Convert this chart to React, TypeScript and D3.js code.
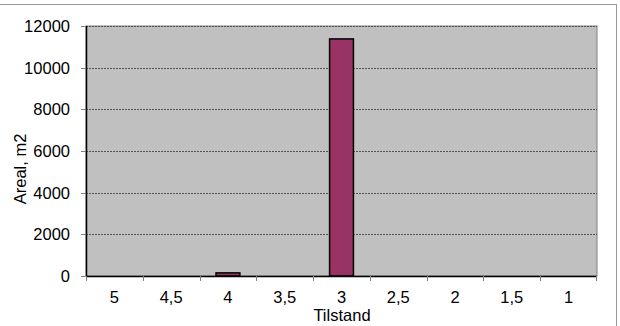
import React from "react";
import * as d3 from "d3";

const categories = ["5", "4,5", "4", "3,5", "3", "2,5", "2", "1,5", "1"];
const values = [0, 0, 150, 0, 11380, 0, 0, 0, 0];
const yTicks = [0, 2000, 4000, 6000, 8000, 10000, 12000];

export default function App() {
  const W = 620, H = 326;
  const m = { l: 86, t: 26, r: 597, b: 276 };
  const x = d3.scaleBand<string>().domain(categories).range([m.l, m.r]).paddingInner(0).paddingOuter(0);
  const y = d3.scaleLinear().domain([0, 12000]).range([m.b, m.t]);
  const bw = x.bandwidth() * 0.42;
  const font = "'Liberation Sans', Arial, sans-serif";
  const fs = 16.5;
  return (
    <svg width={W} height={H} style={{ position: "absolute", left: 0, top: 0 }} fontFamily={font}>
      <rect x={0} y={0} width={W} height={H} fill="#fff" />
      <rect x={-1} y={4.5} width={617.5} height={330} fill="none" stroke="#999" strokeWidth={1} />
      <rect x={m.l} y={m.t} width={m.r - m.l} height={m.b - m.t} fill="#C0C0C0" stroke="#808080" strokeWidth={1} />
      {yTicks.filter(t => t > 0).map(t => (
        <line key={t} x1={m.l} x2={m.r} y1={Math.round(y(t)) + 0.5} y2={Math.round(y(t)) + 0.5} stroke="#555" strokeDasharray="2,1" strokeWidth={1} />
      ))}
      {categories.map((c, i) => {
        const v = values[i];
        if (v <= 0) return null;
        const cx = (x(c) as number) + x.bandwidth() / 2;
        return (
          <rect key={c} x={cx - bw / 2} y={y(v)} width={bw} height={y(0) - y(v)} fill="#993366" stroke="#000" strokeWidth={1.5} />
        );
      })}
      <line x1={m.l + 0.5} x2={m.l + 0.5} y1={m.t} y2={m.b + 1} stroke="#000" strokeWidth={1.5} />
      <line x1={m.l} x2={m.r} y1={m.b + 0.5} y2={m.b + 0.5} stroke="#000" strokeWidth={1.5} />
      {yTicks.map(t => (
        <g key={t}>
          <line x1={m.l - 5} x2={m.l} y1={Math.round(y(t)) + 0.5} y2={Math.round(y(t)) + 0.5} stroke="#808080" />
          <text x={70} y={y(t)} dy="0.36em" textAnchor="end" fontSize={fs} fill="#000">{t}</text>
        </g>
      ))}
      {categories.map((c, i) => (
        <line key={"t" + c} x1={Math.round(x(c) as number) + 0.5} x2={Math.round(x(c) as number) + 0.5} y1={m.b} y2={m.b + 5} stroke="#808080" />
      ))}
      <line x1={m.r - 0.5} x2={m.r - 0.5} y1={m.b} y2={m.b + 5} stroke="#808080" />
      {categories.map(c => (
        <text key={"l" + c} x={(x(c) as number) + x.bandwidth() / 2} y={303} textAnchor="middle" fontSize={fs} fill="#000">{c}</text>
      ))}
      <text x={342} y={321} textAnchor="middle" fontSize={fs} fill="#000">Tilstand</text>
      <text transform={`translate(26,169) rotate(-90)`} textAnchor="middle" fontSize={fs} fill="#000">Areal, m2</text>
    </svg>
  );
}
